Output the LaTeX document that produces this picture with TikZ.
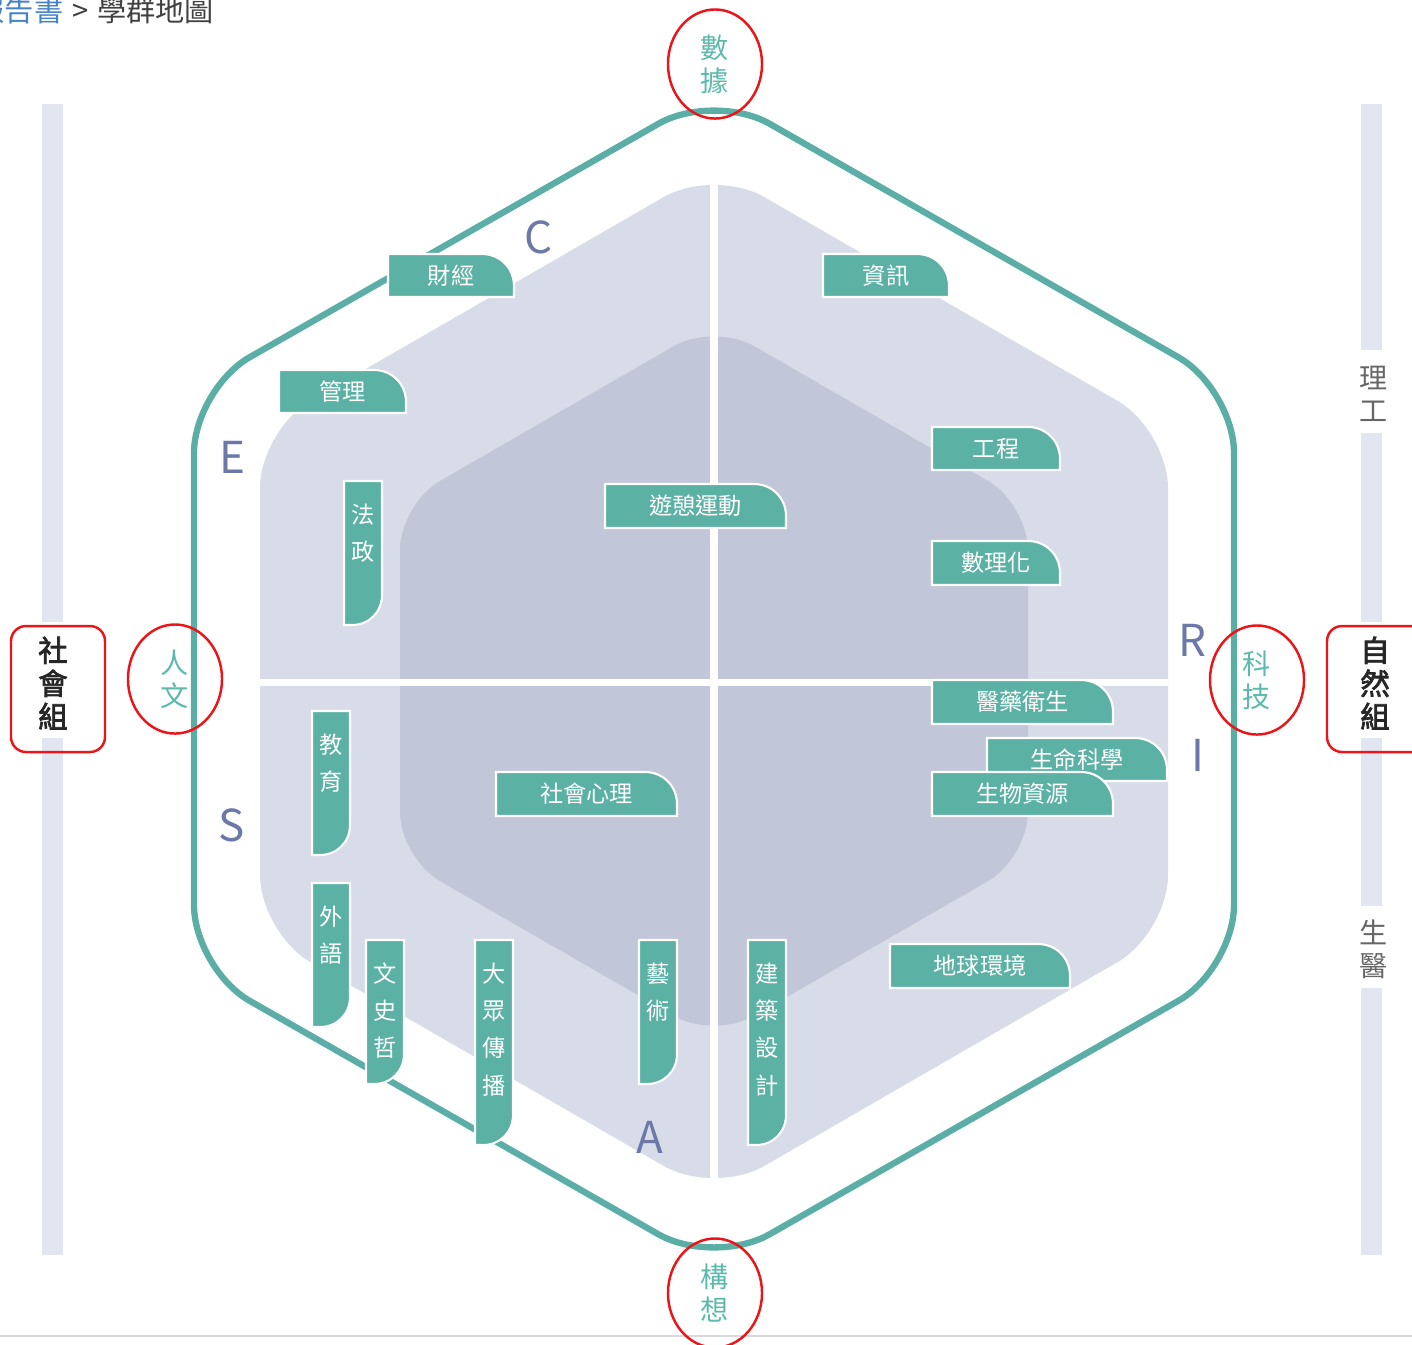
\documentclass[tikz,border=0pt]{standalone}
\usepackage{fontspec}
\setmainfont{Noto Sans CJK TC}
\newfontfamily\groupfont{Noto Sans CJK TC}[FakeBold=2.5]
\usetikzlibrary{shapes.geometric}

\definecolor{hexteal}{RGB}{90,174,166}
\definecolor{tagteal}{RGB}{91,177,164}
\definecolor{ringteal}{RGB}{92,186,172}
\definecolor{outerfill}{RGB}{216,220,232}
\definecolor{innerfill}{RGB}{193,198,216}
\definecolor{letterblue}{RGB}{108,120,168}
\definecolor{barfill}{RGB}{226,230,240}
\definecolor{ringred}{RGB}{235,20,25}
\definecolor{crumbblue}{RGB}{70,130,200}

\tikzset{
  tagbox/.style={fill=tagteal, draw=white, line width=0.6pt},
  tagtext/.style={text=white, inner sep=0pt, font=\fontsize{6.6}{10.6}\selectfont},
  axisletter/.style={text=letterblue, inner sep=0pt, font=\fontsize{12.5}{14}\selectfont},
  ring/.style={ellipse, draw=ringred, line width=0.7pt, inner sep=0pt,
    minimum width=0.94cm, minimum height=1.09cm, align=center, text=ringteal,
    font=\fontsize{8}{9.4}\selectfont},
  groupname/.style={text=black!85, inner sep=0pt, align=center,
    font=\groupfont\fontsize{8.4}{9.4}\selectfont},
  sidename/.style={text=black!60, inner sep=0pt, align=center,
    font=\fontsize{8}{9.4}\selectfont}
}

% tag with rounded top-right corner: name, x1, y1, x2, y2, text
\newcommand{\htag}[6]{%
  \path[tagbox] (#2,#5) -- (#2,#3) -- ({#4-32},#3)
    .. controls ({#4-14},#3) and (#4,{#3+14}) .. (#4,{#3+32}) -- (#4,#5) -- cycle;
  \node[tagtext] (#1) at ({(#2+#4)/2},{(#3+#5)/2}) {#6};}
% upright tag with rounded bottom-right corner
\newcommand{\vtag}[6]{%
  \path[tagbox] (#2,#3) -- (#4,#3) -- (#4,{#5-30})
    .. controls (#4,{#5-13}) and ({#4-13},#5) .. ({#4-30},#5) -- (#2,#5) -- cycle;
  \node[tagtext, anchor=north, align=center] (#1) at ({(#2+#4)/2},{#3+22}) {#6};}

\begin{document}
\begin{tikzpicture}[x=0.01cm, y=-0.01cm]
  \useasboundingbox (0,0) rectangle (1412,1344);
  % breadcrumb
  \node[anchor=base west, inner sep=0pt, text=black!75, font=\fontsize{8.3}{10}\selectfont]
    (crumb) at (-25,21) {\textcolor{crumbblue}{報告書}\hspace{2.5pt}>\hspace{2.5pt}學群地圖};
  \draw[black!15, line width=0.6pt] (0,1336) -- (1412,1336);
  % side bars
  \fill[barfill] (42,104) rectangle (63,622);
  \fill[barfill] (42,738) rectangle (63,1255);
  \fill[barfill] (1361,104) rectangle (1382,350);
  \fill[barfill] (1361,433) rectangle (1382,622);
  \fill[barfill] (1361,738) rectangle (1382,906);
  \fill[barfill] (1361,988) rectangle (1382,1255);
  % hexagons
  \fill[outerfill, rounded corners=0.58cm] (714,168) -- (1168,430) -- (1168,933)
    -- (714,1195) -- (260,933) -- (260,430) -- cycle;
  \fill[innerfill, rounded corners=0.46cm] (714,323) -- (1028,504) -- (1028,858)
    -- (714,1039) -- (400,858) -- (400,504) -- cycle;
  \begin{scope}
    \clip[rounded corners=0.58cm] (714,168) -- (1168,430) -- (1168,933)
      -- (714,1195) -- (260,933) -- (260,430) -- cycle;
    \draw[white, line width=2pt] (714,150) -- (714,1220);
    \draw[white, line width=2pt] (240,682) -- (1190,682);
  \end{scope}
  \draw[hexteal, line width=1.8pt, rounded corners=0.64cm] (714,92) -- (1234,389)
    -- (1234,969) -- (714,1266) -- (194,969) -- (194,389) -- cycle;
  % corner letters
  \node[axisletter] (lc) at (539,237) {C};
  \node[axisletter] (le) at (232,457) {E};
  \node[axisletter] (ls) at (232,825) {S};
  \node[axisletter] (la) at (650,1137) {A};
  \node[axisletter] (lr) at (1192,640) {R};
  \node[axisletter] (li) at (1198,755) {I};
  % tags
  \htag{caijing}{388}{254}{514}{297}{財經}
  \htag{zixun}{823}{254}{949}{297}{資訊}
  \htag{guanli}{279}{370}{406}{413}{管理}
  \htag{gongcheng}{932}{427}{1060}{470}{工程}
  \htag{youqi}{605}{484}{786}{528}{遊憩運動}
  \htag{shulihua}{932}{541}{1060}{585}{數理化}
  \htag{yiyao}{932}{680}{1113}{724}{醫藥衛生}
  \htag{shengming}{987}{738}{1167}{781}{生命科學}
  \htag{shengwu}{932}{772}{1113}{816}{生物資源}
  \htag{shehui}{496}{772}{677}{816}{社會心理}
  \htag{diqiu}{890}{944}{1070}{988}{地球環境}
  \vtag{fazheng}{344}{481}{382}{625}{法\\政}
  \vtag{jiaoyu}{312}{711}{350}{855}{教\\育}
  \vtag{waiyu}{312}{883}{350}{1027}{外\\語}
  \vtag{wenshi}{366}{940}{404}{1084}{文\\史\\哲}
  \vtag{dazhong}{475}{940}{513}{1145}{大\\眾\\傳\\播}
  \vtag{yishu}{639}{940}{677}{1084}{藝\\術}
  \vtag{jianzhu}{748}{940}{786}{1145}{建\\築\\設\\計}
  % red rings
  \node[ring] (shuju) at (715,64) {數\\據};
  \node[ring] (renwen) at (175,679) {人\\文};
  \node[ring] (keji) at (1257,680) {科\\技};
  \node[ring] (gouxiang) at (715,1293) {構\\想};
  % group names
  \draw[ringred, line width=0.7pt, rounded corners=0.15cm] (11,626) rectangle (105,752);
  \draw[ringred, line width=0.7pt, rounded corners=0.15cm] (1327,626) rectangle (1430,752);
  \node[groupname] (shehuizu) at (53,683) {社\\會\\組};
  \node[groupname] (ziranzu) at (1375,683) {自\\然\\組};
  \node[sidename] (ligong) at (1374,394) {理\\工};
  \node[sidename] (shengyi) at (1374,949) {生\\醫};
\end{tikzpicture}
\end{document}
